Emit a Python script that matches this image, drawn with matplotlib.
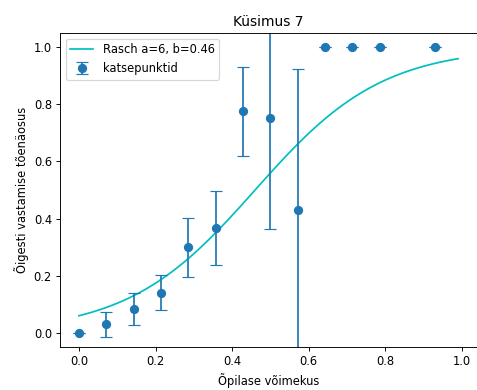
import numpy as np
import matplotlib
matplotlib.use("Agg")
import matplotlib.pyplot as plt

# Rasch model parameters
A = 6
B = 0.46

# experimental points
ability = [0.0, 0.071, 0.143, 0.214, 0.286, 0.357, 0.429, 0.5, 0.571, 0.643, 0.714, 0.786, 0.929]
p_correct = [0.0, 0.03, 0.084, 0.14, 0.299, 0.367, 0.775, 0.751, 0.429, 1.0, 1.0, 1.0, 1.0]
p_err = [0.0, 0.044, 0.056, 0.062, 0.104, 0.13, 0.157, 0.387, 0.495, 0.0, 0.0, 0.0, 0.0]


def rasch(x, a, b):
    return 1 / (1 + np.exp(-a * (x - b)))


DPI = 83
fig = plt.figure(figsize=(477 / DPI, 390 / DPI), dpi=DPI)
ax = fig.add_axes([60 / 477, 43 / 390, 417 / 477, 314 / 390])

xs = np.arange(0, 1, 0.01)
ax.plot(xs, rasch(xs, A, B), color='c', label=f'Rasch a={A}, b={B}')
ax.errorbar(ability, p_correct, yerr=p_err, fmt='o', color='C0', capsize=5,
            markersize=7, label='katsepunktid')

ax.set_xlim(-0.0495, 1.0395)
ax.set_ylim(-0.05, 1.05)
ax.set_title('Küsimus 7')
ax.set_xlabel('Õpilase võimekus')
ax.set_ylabel('Õigesti vastamise tõenäosus')
ax.legend(loc='upper left')

fig.savefig('out.png', dpi=DPI)
